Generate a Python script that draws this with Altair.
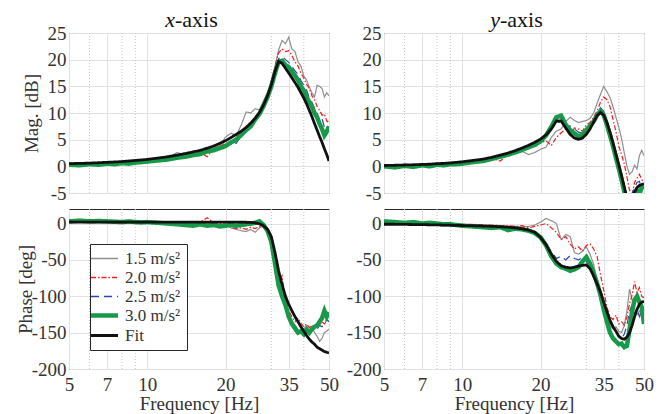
import altair as alt
import pandas as pd

# ---------------- data ----------------
FREQ = [5, 5.5, 6, 6.5, 7, 7.5, 8, 8.5, 9, 9.5, 10,
        11, 12, 13, 14, 15, 16, 17, 18, 19,
        20, 21, 22, 23, 24, 25, 26, 27, 28, 29,
        30, 31, 32, 33, 34, 35, 36, 37, 38, 39,
        40, 41, 42, 43, 44, 45, 46, 47, 48, 49, 50]
SERIES = ["1.5 m/s²", "2.0 m/s²", "2.5 m/s²", "3.0 m/s²", "Fit"]

# magnitude, x-axis [dB]
MAG_X_15 = [0.5, 0.4, 0.6, 0.5, 0.7, 0.6, 0.8, 0.8, 0.9, 1.0, 1.1,
            1.3, 1.6, 2.6, 2.1, 2.4, 2.6, 3.1, 3.4, 3.9,
            5.5, 6.2, 5.8, 7.8, 10.2, 10.0, 10.8, 10.6, 12.3, 13.8,
            15.5, 18.8, 21.8, 23.6, 23.0, 24.2, 22.0, 21.5, 19.6, 18.8,
            16.9, 16.2, 14.8, 13.8, 13.0, 15.2, 15.0, 14.6, 13.0, 13.8, 13.2]
MAG_X_20 = [0.4, 0.5, 0.5, 0.6, 0.6, 0.7, 0.7, 0.8, 0.9, 0.9, 1.0,
            1.2, 1.5, 1.7, 2.0, 2.2, 2.6, 1.8, 3.3, 3.7,
            4.4, 4.2, 5.4, 6.5, 7.4, 8.2, 9.0, 10.2, 11.8, 13.6,
            16.0, 18.8, 21.3, 22.0, 21.5, 21.7, 20.8, 19.6, 18.8, 17.5,
            16.5, 15.4, 14.6, 13.2, 12.5, 11.2, 10.5, 9.6, 9.8, 8.5, 8.2]
MAG_X_25 = [0.4, 0.4, 0.5, 0.5, 0.6, 0.6, 0.7, 0.7, 0.8, 0.9, 1.0,
            1.2, 1.4, 1.7, 1.9, 2.2, 2.5, 2.8, 3.2, 3.7,
            4.1, 4.6, 4.3, 5.8, 6.6, 7.5, 8.6, 9.8, 11.4, 13.2,
            15.4, 18.0, 20.2, 20.6, 20.0, 19.5, 18.7, 17.9, 17.2, 16.1,
            15.2, 14.3, 12.8, 12.0, 10.8, 10.0, 8.5, 9.0, 7.3, 6.8, 7.2]
MAG_X_30 = [0.3, 0.2, 0.4, 0.3, 0.5, 0.4, 0.6, 0.5, 0.7, 0.8, 0.9,
            1.1, 1.3, 1.6, 1.8, 2.1, 2.3, 2.8, 3.0, 3.4,
            3.8, 4.5, 5.0, 5.9, 6.8, 7.5, 8.8, 9.8, 11.3, 13.0,
            15.0, 17.5, 19.6, 19.8, 19.0, 18.6, 17.8, 17.0, 16.2, 15.0,
            14.2, 13.0, 12.0, 11.2, 10.0, 9.2, 8.0, 7.0, 5.8, 6.5, 7.5]
MAG_X_FIT = [0.5, 0.55, 0.6, 0.68, 0.75, 0.82, 0.9, 1.0, 1.1, 1.2, 1.3,
             1.55, 1.8, 2.1, 2.4, 2.7, 3.0, 3.4, 3.8, 4.3,
             4.8, 5.4, 6.0, 6.6, 7.3, 8.1, 9.0, 10.1, 11.5, 13.2,
             15.3, 17.8, 19.7, 19.3, 18.4, 17.5, 16.6, 15.7, 14.8, 13.8,
             12.8, 11.7, 10.5, 9.3, 8.0, 6.8, 5.6, 4.5, 3.3, 2.2, 1.0]

# magnitude, y-axis [dB]
MAG_Y_15 = [0.1, 0.0, 0.2, 0.1, 0.3, 0.2, 0.4, 0.3, 0.5, 0.5, 0.6,
            0.8, 0.8, 1.1, 1.6, 2.0, 2.4, 2.8, 2.2, 2.6,
            3.2, 3.6, 5.4, 6.6, 7.0, 8.4, 9.2, 8.6, 8.2, 8.4,
            8.6, 9.0, 10.0, 11.8, 13.5, 15.0, 14.0, 12.9, 11.2, 9.2,
            7.3, 5.2, 2.5, 0.0, -1.5, -1.0, 0.2, -0.5, 2.0, 3.0, 2.0]
MAG_Y_20 = [0.1, 0.1, 0.2, 0.2, 0.3, 0.3, 0.4, 0.5, 0.5, 0.6, 0.7,
            0.9, 1.2, 1.5, 1.0, 2.2, 2.6, 2.9, 3.3, 3.9,
            4.4, 4.8, 3.9, 5.4, 6.3, 7.0, 5.8, 7.2, 7.0, 6.6,
            7.8, 8.2, 9.2, 10.4, 12.0, 13.0, 12.5, 11.2, 8.8, 6.5,
            3.8, 2.2, 0.4, -2.0, -4.5, -5.5, -3.0, -2.2, -1.5, -2.5, -3.0]
MAG_Y_25 = [0.1, 0.0, 0.2, 0.1, 0.3, 0.2, 0.4, 0.4, 0.5, 0.6, 0.7,
            0.9, 1.2, 1.5, 1.9, 2.3, 2.7, 3.2, 3.7, 4.2,
            4.9, 5.9, 7.2, 8.6, 8.0, 7.4, 7.6, 7.0, 6.4, 6.2,
            6.8, 7.5, 8.8, 10.2, 11.0, 10.3, 8.4, 6.2, 4.2, 2.2,
            0.2, -1.8, -3.8, -5.5, -6.5, -5.0, -4.0, -3.0, -2.8, -4.2, -3.8]
MAG_Y_30 = [0.0, -0.2, 0.1, -0.1, 0.2, 0.0, 0.3, 0.2, 0.4, 0.4, 0.5,
            0.8, 1.0, 1.4, 1.8, 2.2, 2.6, 3.1, 3.6, 4.0,
            4.7, 5.8, 7.4, 9.2, 9.5, 7.8, 6.8, 6.2, 5.6, 6.0,
            6.8, 7.6, 8.4, 9.6, 10.4, 9.6, 7.8, 5.8, 3.8, 1.6,
            -0.4, -2.5, -4.8, -6.5, -7.5, -7.0, -5.5, -4.5, -5.2, -4.0, -3.8]
MAG_Y_FIT = [0.15, 0.2, 0.25, 0.3, 0.35, 0.4, 0.5, 0.55, 0.65, 0.75, 0.85,
             1.1, 1.35, 1.7, 2.1, 2.5, 2.95, 3.45, 3.95, 4.5,
             5.1, 5.9, 7.0, 8.5, 8.5, 7.2, 6.0, 5.3, 5.05, 5.3,
             6.0, 7.0, 8.3, 9.5, 10.1, 9.6, 8.2, 6.4, 4.4, 2.3,
             0.3, -1.8, -3.9, -6.0, -7.0, -6.0, -4.8, -4.0, -3.6, -3.4, -3.3]

# phase, x-axis [deg]
PH_X_15 = [2, 2, 3, 2, 2, 1, 2, 2, 1, 2, 1,
           1, 0, 1, 0, -1, 0, -2, -1, -2,
           -2, -6, -8, -10, -11, -8, -12, -6, -3, -10,
           -28, -55, -80, -95, -110, -125, -135, -148, -152, -150,
           -145, -140, -148, -142, -150, -155, -162, -158, -150, -148, -145]
PH_X_20 = [3, 3, 2, 3, 2, 2, 3, 2, 2, 2, 2,
           2, 2, 1, 2, 1, 2, 8, 1, 0,
           -1, -5, -7, -6, -8, -5, -7, -4, -5, -12,
           -30, -55, -82, -72, -105, -120, -128, -135, -130, -137,
           -142, -138, -143, -140, -142, -138, -140, -135, -138, -134, -132]
PH_X_25 = [2, 3, 2, 3, 2, 2, 2, 3, 2, 2, 1,
           1, 0, 0, -1, -1, 0, -1, -2, -2,
           -2, -3, -3, -2, -3, -2, -1, 0, -2, -12,
           -30, -58, -85, -102, -118, -128, -136, -140, -146, -150,
           -148, -145, -150, -142, -148, -145, -140, -142, -138, -132, -135]
PH_X_30 = [3, 4, 3, 3.5, 3, 2.5, 2, 3, 2, 1.5, 2,
           1, 0, -1, -2, -3, -1, -3, -2, -4,
           -3, -2, -3, -2, -1, 0, 1, 3, -2, -10,
           -25, -55, -85, -100, -112, -128, -138, -144, -150, -148,
           -152, -146, -150, -145, -142, -140, -135, -130, -120, -128, -122]
PH_X_FIT = [2, 2, 2, 2, 2, 2, 2, 2, 2, 2, 2,
            2, 2, 2, 2, 2, 2, 2, 2, 2,
            2, 2, 2, 2, 1.8, 1.5, 1, -0.5, -3, -8,
            -18, -40, -65, -84, -100, -111, -120, -128, -135, -142,
            -148, -154, -159, -163, -166, -170, -172, -174, -176, -177, -178]

# phase, y-axis [deg]
PH_Y_15 = [1, 2, 1, 0, 1, 0, 0, -1, 0, -1, -1,
           -2, -2, -3, -3, -4, -4, -5, -4, -2,
           2, 7, 4, 0, -22, -15, -18, -40, -42, -38,
           -32, -42, -56, -80, -100, -118, -132, -140, -145, -142,
           -148, -150, -140, -120, -90, -105, -118, -125, -120, -128, -122]
PH_Y_20 = [1, 1, 0, 1, 0, 0, -1, 0, -1, -1, -1,
           -1, -2, -2, -3, -3, -4, -3, -6, -4,
           -2, 0, -6, -12, -22, -18, -28, -35, -32, -38,
           -30, -28, -35, -45, -70, -92, -115, -128, -132, -126,
           -138, -135, -140, -128, -110, -98, -80, -95, -88, -100, -102]
PH_Y_25 = [0, 1, 0, 0, -1, 0, -1, -1, -1, -2, -2,
           -2, -3, -3, -4, -5, -5, -6, -8, -11,
           -18, -28, -38, -48, -45, -50, -44, -48, -50, -47,
           -52, -60, -70, -82, -96, -110, -125, -138, -140, -148,
           -155, -158, -152, -140, -120, -112, -125, -118, -128, -120, -130]
PH_Y_30 = [3, 2, 1, 2, 0, 1, 0, -1, -1, -2, -3,
           -4, -5, -6, -5, -9, -7, -8, -10, -13,
           -19, -30, -45, -55, -60, -62, -65, -63, -60, -52,
           -46, -55, -68, -82, -98, -118, -135, -150, -158, -162,
           -166, -165, -170, -168, -145, -120, -105, -100, -108, -115, -138]
PH_Y_FIT = [-1, -1, -1.2, -1.4, -1.5, -1.7, -1.9, -2.1, -2.3, -2.5, -2.7,
            -3.0, -3.4, -3.8, -4.4, -5.0, -6.0, -7.2, -9.0, -12,
            -19, -29, -42, -52, -58, -60, -61, -60, -58.5, -57.5,
            -57, -62, -72, -83, -94, -108, -121, -133, -142, -148,
            -155, -158, -159, -156, -150, -140, -128, -118, -111, -108, -107]

MAJOR_X = [5, 7, 10, 20, 35, 50]
MINOR_X = [6, 8, 9, 30, 40]
MAG_TICKS = [-5, 0, 5, 10, 15, 20, 25]
PH_TICKS = [-200, -150, -100, -50, 0]

# ---------------- styling ----------------
FONT = "Liberation Serif"
TXT = "#333333"
GRID = "#e2e2e2"
COLORS = ["#8f8f8f", "#ff1a1a", "#2a46b8", "#17994a", "#111111"]
DASHES = [[1, 0], [5, 2, 1.5, 2], [8, 5], [1, 0], [1, 0]]
W, H = 260, 160
WIDTH_EXPR = "{v} === '3.0 m/s²' ? 4.5 : ({v} === 'Fit' ? 2.8 : 1.3)"


def frame(cols):
    rows = []
    for s, vals in zip(SERIES, cols):
        for f, v in zip(FREQ, vals):
            rows.append({"f": f, "v": v, "s": s})
    return pd.DataFrame(rows)


def panel(cols, ydom, yticks, bottom, ytitle=None, ytitle_x=0,
          title_parts=None, legend=False):
    df = frame(cols)
    xscale = alt.Scale(type="log", domain=[5, 50], nice=False)
    yscale = alt.Scale(domain=ydom, nice=False, zero=False)
    xaxis_kw = dict(orient="bottom", values=MAJOR_X, grid=True, ticks=False,
                    domain=False, labelFlush=False, labelOverlap=False)
    if bottom:
        xaxis = alt.Axis(title="Frequency [Hz]", titleY=40,
                         titleBaseline="alphabetic",
                         labelExpr="'' + datum.value",
                         labelPadding=21, labelBaseline="alphabetic",
                         **xaxis_kw)
    else:
        xaxis = alt.Axis(title=None, labels=False, labelOpacity=0,
                         **xaxis_kw)
    yaxis_kw = dict(orient="left", values=yticks, grid=True, ticks=False,
                    domain=False, labelExpr="'' + datum.value",
                    labelPadding=3, labelOverlap=False)
    if ytitle:
        yaxis = alt.Axis(title=ytitle, titleX=ytitle_x, titleY=H / 2,
                         titleAngle=270, titleBaseline="middle", **yaxis_kw)
    else:
        yaxis = alt.Axis(title=None, **yaxis_kw)

    if legend:
        leg = alt.Legend(
            title=None, orient="none", legendX=21, legendY=35,
            fillColor="white", strokeColor="#262626", padding=6,
            labelFont=FONT, labelFontSize=17, labelColor=TXT,
            symbolType="M-1.35,0H1.35", symbolSize=400, rowPadding=1,
            labelOffset=12,
            symbolStrokeWidth=alt.ExprRef(
                expr=WIDTH_EXPR.format(v="datum.value")),
        )
    else:
        leg = None

    minor = alt.Chart(pd.DataFrame({"f": MINOR_X})).mark_rule(
        color="#c4c4c4", strokeDash=[1, 2], strokeWidth=1
    ).encode(x=alt.X("f:Q", scale=xscale, axis=xaxis))

    lines = alt.Chart(df).mark_line(clip=True).encode(
        x=alt.X("f:Q", scale=xscale, axis=xaxis),
        y=alt.Y("v:Q", scale=yscale, axis=yaxis),
        color=alt.Color("s:N", scale=alt.Scale(domain=SERIES, range=COLORS),
                        legend=leg),
        strokeDash=alt.StrokeDash("s:N",
                                  scale=alt.Scale(domain=SERIES, range=DASHES),
                                  legend=leg),
        strokeWidth={"condition": [
            {"test": "datum.s === '3.0 m/s²'", "value": 4.5},
            {"test": "datum.s === 'Fit'", "value": 2.8}],
            "value": 1.2},
    )
    layers = [minor, lines]
    if title_parts:
        ital, rest, split = title_parts
        t1 = alt.Chart(pd.DataFrame({"t": [ital]})).mark_text(
            font=FONT, fontSize=22, fontStyle="italic", align="right",
            baseline="alphabetic", color="#111111"
        ).encode(text="t:N", x=alt.value(split), y=alt.value(-6))
        t2 = alt.Chart(pd.DataFrame({"t": [rest]})).mark_text(
            font=FONT, fontSize=22, align="left",
            baseline="alphabetic", color="#111111"
        ).encode(text="t:N", x=alt.value(split), y=alt.value(-6))
        layers += [t1, t2]
    return alt.layer(*layers).properties(width=W, height=H)


tl = panel([MAG_X_15, MAG_X_20, MAG_X_25, MAG_X_30, MAG_X_FIT],
           [-5, 25], MAG_TICKS, False, "Mag. [dB]", -38, ("x", "-axis", 106))
tr = panel([MAG_Y_15, MAG_Y_20, MAG_Y_25, MAG_Y_30, MAG_Y_FIT],
           [-5, 25], MAG_TICKS, False, None, 0, ("y", "-axis", 116))
bl = panel([PH_X_15, PH_X_20, PH_X_25, PH_X_30, PH_X_FIT],
           [-200, 20], PH_TICKS, True, "Phase [deg]", -44, None, legend=True)
br = panel([PH_Y_15, PH_Y_20, PH_Y_25, PH_Y_30, PH_Y_FIT],
           [-200, 20], PH_TICKS, True, None, 0, None)

chart = alt.concat(tl, tr, bl, br, columns=2, spacing={"row": 16, "column": 55},
                   bounds="flush").resolve_scale(
    x="independent", y="independent", color="independent",
    strokeDash="independent"
).properties(
    padding={"left": 7, "top": 0, "right": 5, "bottom": 0}
).configure(
    background="white"
).configure_view(
    stroke="#262626", strokeWidth=1
).configure_axis(
    labelFont=FONT, labelFontSize=19, labelColor=TXT,
    titleFont=FONT, titleFontSize=19, titleColor=TXT, titleFontWeight="normal",
    gridColor=GRID, gridWidth=1, domain=False, ticks=False
)

chart.save("out.html", embed_options={"renderer": "svg", "actions": False})
